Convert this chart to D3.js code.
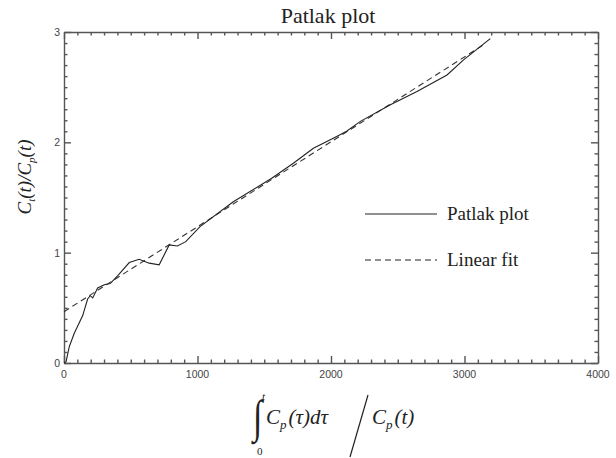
<!DOCTYPE html>
<html>
<head>
<meta charset="utf-8">
<script src="https://cdn.jsdelivr.net/npm/d3@7"></script>
<style>
    body { margin: 0; background: #fff; }
    .axis path, .axis line { stroke: #555; }
    .tick-label { font-family: "Liberation Sans", Arial, sans-serif; font-size: 10.5px; fill: #444; }
    .serif { font-family: "Liberation Serif", "Times New Roman", serif; fill: #222; }
</style>
</head>
<body>
<svg id="chart" width="616" height="458"></svg>
<script>
// Patlak curve
const patlakX = [0, 15, 40, 77, 140, 177, 197, 215, 252, 302, 346, 401, 489, 563, 638, 713, 788, 850, 912,
    1019, 1268, 1556, 1718, 1868, 2017, 2117, 2220, 2445, 2644, 2869, 2993, 3193];
const patlakY = [0, 0.01, 0.15, 0.27, 0.43, 0.58, 0.61, 0.59, 0.68, 0.71, 0.72, 0.79, 0.91, 0.94, 0.905, 0.89, 1.07, 1.06, 1.10,
    1.236, 1.462, 1.675, 1.81, 1.946, 2.037, 2.10, 2.19, 2.34, 2.46, 2.61, 2.747, 2.94];

// linear fit end points
const fitX = [0, 3150];
const fitY = [0.465, 2.89];

const xTicks = [0, 1000, 2000, 3000, 4000];
const yTicks = [0, 1, 2, 3];
const legendLabels = ["Patlak plot", "Linear fit"];

let svg = d3.select("#chart"),
    margin = {top: 32, right: 18, bottom: 95, left: 64},
    width = 616 - margin.left - margin.right,
    height = 458 - margin.top - margin.bottom,
    g = svg.append("g").attr("transform", "translate(" + margin.left + "," + margin.top + ")");

let x = d3.scaleLinear().domain([0, 4000]).range([0, width]);
let y = d3.scaleLinear().domain([0, 3]).range([height, 0]);

let xMinor = d3.range(0, 4001, 100).filter(function (d) { return d % 1000 !== 0; });
let yMinor = d3.range(0, 31).map(function (d) { return d / 10; }).filter(function (d) { return Math.round(d * 10) % 10 !== 0; });

// frame: each side gets inward major + minor ticks
function drawSide(axisFn, transform) {
    let scale = (axisFn === d3.axisBottom || axisFn === d3.axisTop) ? x : y;
    let vals = scale === x ? xTicks : yTicks;
    let minor = scale === x ? xMinor : yMinor;
    g.append("g").attr("class", "axis").attr("transform", transform)
        .call(axisFn(scale).tickValues(vals).tickSize(-7).tickFormat("").tickSizeOuter(0));
    g.append("g").attr("class", "axis").attr("transform", transform)
        .call(axisFn(scale).tickValues(minor).tickSize(-3.5).tickFormat("").tickSizeOuter(0))
        .select(".domain").remove();
}

drawSide(d3.axisBottom, "translate(0," + height + ")");
drawSide(d3.axisTop, "translate(0,0)");
drawSide(d3.axisLeft, "translate(0,0)");
drawSide(d3.axisRight, "translate(" + width + ",0)");
g.selectAll(".axis path, .axis line").attr("stroke-width", 1.4);

// tick labels
g.selectAll(".xlab")
    .data(xTicks)
    .enter().append("text")
    .attr("class", "tick-label")
    .attr("x", function (d) { return x(d); })
    .attr("y", height + 15)
    .attr("text-anchor", "middle")
    .text(function (d) { return d; });

g.selectAll(".ylab")
    .data(yTicks)
    .enter().append("text")
    .attr("class", "tick-label")
    .attr("x", -4)
    .attr("y", function (d) { return y(d) + 4; })
    .attr("text-anchor", "end")
    .text(function (d) { return d; });

// curves
let patlak = patlakX.map(function (d, i) { return {x: d, y: patlakY[i]}; });
let fit = fitX.map(function (d, i) { return {x: d, y: fitY[i]}; });

let line = d3.line()
    .x(function (d) { return x(d.x); })
    .y(function (d) { return y(d.y); });

g.append("path")
    .datum(fit)
    .attr("fill", "none")
    .attr("stroke", "#333")
    .attr("stroke-width", 1.1)
    .attr("stroke-dasharray", "6,4")
    .attr("d", line);

g.append("path")
    .datum(patlak)
    .attr("fill", "none")
    .attr("stroke", "#222")
    .attr("stroke-width", 1.1)
    .attr("d", line);

// legend
let legend = svg.append("g").attr("transform", "translate(365,214)");
legendLabels.forEach(function (lab, i) {
    let row = legend.append("g").attr("transform", "translate(0," + (i * 46) + ")");
    row.append("line")
        .attr("x1", 0).attr("x2", 72)
        .attr("stroke", "#222")
        .attr("stroke-width", 1.1)
        .attr("stroke-dasharray", i === 1 ? "6,4" : null);
    row.append("text")
        .attr("class", "serif")
        .attr("x", 82)
        .attr("y", 6)
        .style("font-size", "19px")
        .text(lab);
});

// title
svg.append("text")
    .attr("class", "serif")
    .attr("x", 328)
    .attr("y", 23)
    .attr("text-anchor", "middle")
    .style("font-size", "22px")
    .text("Patlak plot");

// y label: C_t(t)/C_p(t)
let ylab = svg.append("text")
    .attr("class", "serif")
    .attr("transform", "translate(31,177) rotate(-90)")
    .attr("text-anchor", "middle")
    .style("font-size", "19px")
    .style("font-style", "italic");
ylab.append("tspan").text("C");
ylab.append("tspan").attr("dy", 4).style("font-size", "11px").text("t");
ylab.append("tspan").attr("dy", -4).text("(t)/C");
ylab.append("tspan").attr("dy", 4).style("font-size", "11px").text("p");
ylab.append("tspan").attr("dy", -4).text("(t)");

// x label: integral over 0..t of C_p(tau) dtau / C_p(t)
let xl = svg.append("g");
xl.append("text").attr("class", "serif")
    .attr("transform", "translate(253,432) scale(1,1.35)")
    .style("font-size", "34px").text("\u222B");
xl.append("text").attr("class", "serif").attr("x", 262).attr("y", 400)
    .style("font-size", "11px").style("font-style", "italic").text("t");
xl.append("text").attr("class", "serif").attr("x", 257).attr("y", 455)
    .style("font-size", "11px").text("0");
let num = xl.append("text").attr("class", "serif").attr("x", 266).attr("y", 424)
    .style("font-size", "21px").style("font-style", "italic");
num.append("tspan").text("C");
num.append("tspan").attr("dy", 5).style("font-size", "13px").text("p");
num.append("tspan").attr("dy", -5).attr("dx", 2).text("(\u03C4)d\u03C4");
xl.append("line")
    .attr("x1", 368).attr("y1", 395).attr("x2", 350).attr("y2", 457)
    .attr("stroke", "#222").attr("stroke-width", 1.2);
let den = xl.append("text").attr("class", "serif").attr("x", 372).attr("y", 424)
    .style("font-size", "21px").style("font-style", "italic");
den.append("tspan").text("C");
den.append("tspan").attr("dy", 5).style("font-size", "13px").text("p");
den.append("tspan").attr("dy", -5).attr("dx", 2).text("(t)");
</script>
</body>
</html>
